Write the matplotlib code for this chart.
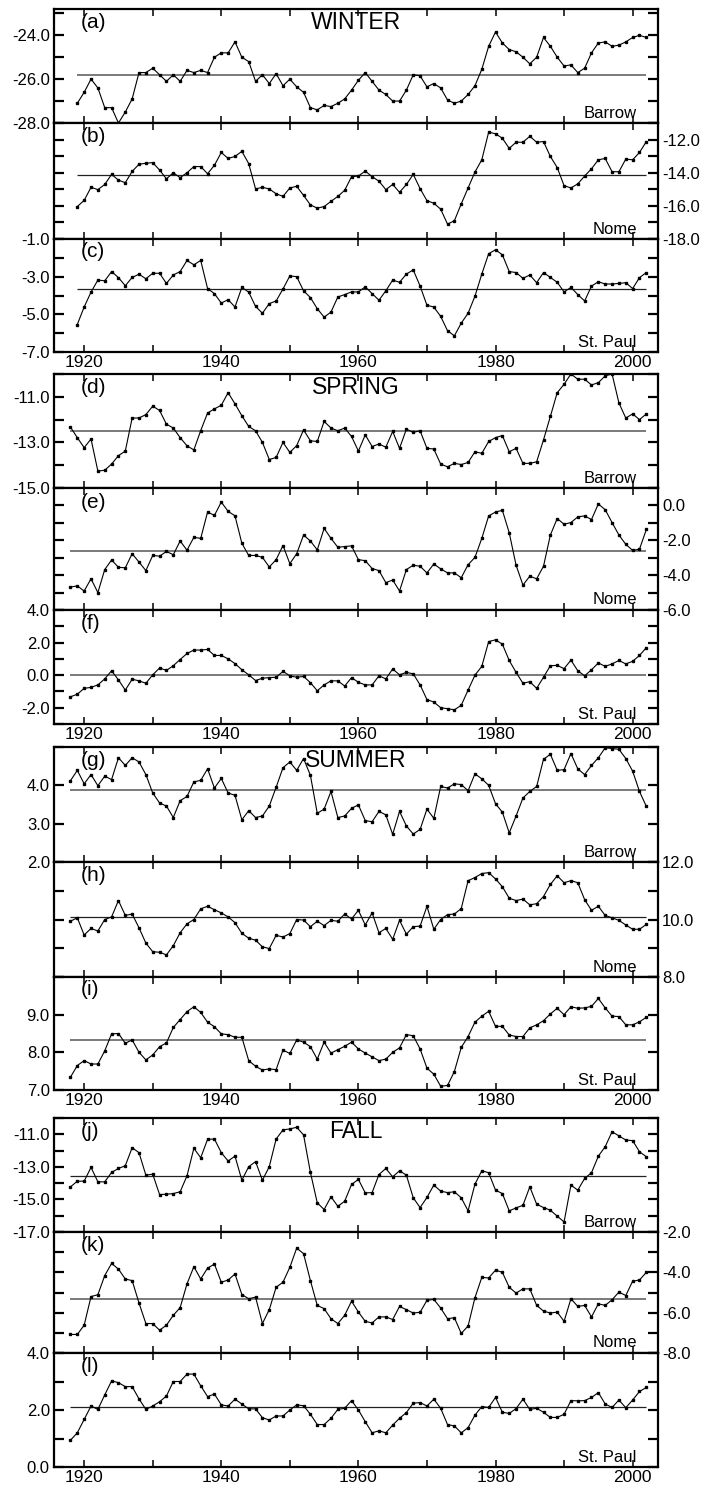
import numpy as np
import matplotlib.pyplot as plt

plt.rcParams['font.family'] = ['Liberation Sans', 'DejaVu Sans']
plt.rcParams['axes.unicode_minus'] = False

# ---- values ----
years_winter = np.arange(1919, 2003)
years = np.arange(1918, 2003)

barrow_winter = [-27.1, -26.6, -26.0, -26.4, -27.3, -27.3, -28.0, -27.5, -26.9, -25.7,
                 -25.7, -25.5, -25.8, -26.1, -25.8, -26.1, -25.6, -25.7, -25.6, -25.7,
                 -25.0, -24.8, -24.8, -24.3, -25.0, -25.2, -26.1, -25.8, -26.2, -25.75,
                 -26.3, -26.0, -26.35, -26.6, -27.3, -27.4, -27.2, -27.25, -27.1, -26.9,
                 -26.5, -26.05, -25.7, -26.1, -26.5, -26.7, -27.0, -27.0, -26.5, -25.8,
                 -25.85, -26.35, -26.2, -26.4, -26.95, -27.1, -27.0, -26.7, -26.3, -25.55,
                 -24.5, -23.85, -24.35, -24.65, -24.75, -25.0, -25.3, -25.0, -24.1, -24.5,
                 -25.0, -25.4, -25.35, -25.7, -25.5, -24.8, -24.35, -24.3, -24.5, -24.45,
                 -24.3, -24.1, -24.0, -24.1]
nome_winter = [-16.04, -15.67, -14.88, -15.02, -14.71, -14.1, -14.45, -14.6, -13.92, -13.49,
               -13.43, -13.39, -13.84, -14.37, -14.0, -14.3, -14.0, -13.63, -13.63, -14.06,
               -13.55, -12.78, -13.14, -13.02, -12.71, -13.45, -14.98, -14.88, -14.98, -15.27,
               -15.43, -14.92, -14.82, -15.37, -15.94, -16.14, -16.04, -15.73, -15.43, -15.06,
               -14.24, -14.2, -13.9, -14.24, -14.51, -15.02, -14.71, -15.18, -14.71, -14.1,
               -14.96, -15.69, -15.84, -16.2, -17.1, -16.9, -15.88, -14.92, -13.96, -13.22,
               -11.55, -11.65, -11.92, -12.53, -12.16, -12.16, -11.8, -12.16, -12.12, -13.02,
               -13.69, -14.78, -14.92, -14.67, -14.2, -13.76, -13.22, -13.14, -13.94, -13.94,
               -13.18, -13.22, -12.78, -12.12]
stpaul_winter = [-5.54, -4.61, -3.82, -3.18, -3.22, -2.73, -3.05, -3.48, -3.04, -2.87,
                 -3.11, -2.82, -2.82, -3.36, -2.91, -2.73, -2.14, -2.37, -2.14, -3.63,
                 -3.9, -4.4, -4.22, -4.61, -3.57, -3.82, -4.58, -4.94, -4.43, -4.29,
                 -3.65, -2.96, -3.0, -3.75, -4.11, -4.7, -5.15, -4.88, -4.08, -3.95,
                 -3.81, -3.81, -3.54, -3.9, -4.25, -3.75, -3.18, -3.3, -2.86, -2.64,
                 -3.5, -4.52, -4.61, -5.11, -5.87, -6.14, -5.47, -4.94, -4.04, -2.86,
                 -1.78, -1.57, -1.84, -2.73, -2.78, -3.09, -2.91, -3.32, -2.78, -3.04,
                 -3.3, -3.81, -3.57, -3.95, -4.29, -3.5, -3.27, -3.39, -3.39, -3.36,
                 -3.32, -3.63, -3.05, -2.78]

barrow_spring = [-12.33, -12.79, -13.23, -12.85, -14.26, -14.22, -13.95, -13.58, -13.38, -11.93,
                 -11.93, -11.78, -11.41, -11.6, -12.2, -12.37, -12.79, -13.15, -13.33, -12.48,
                 -11.71, -11.53, -11.37, -10.82, -11.31, -11.83, -12.3, -12.49, -13.0, -13.75,
                 -13.66, -13.0, -13.44, -13.14, -12.45, -12.93, -12.96, -12.08, -12.37, -12.49,
                 -12.37, -12.74, -13.38, -12.67, -13.18, -13.07, -13.21, -12.52, -13.26, -12.42,
                 -12.56, -12.49, -13.26, -13.29, -13.95, -14.07, -13.92, -13.97, -13.88, -13.41,
                 -13.48, -12.96, -12.79, -12.7, -13.41, -13.26, -13.92, -13.92, -13.85, -12.89,
                 -11.86, -10.82, -10.45, -10.0, -10.23, -10.23, -10.48, -10.38, -10.08, -10.0,
                 -11.27, -11.93, -11.75, -12.0, -11.75]
nome_spring = [-4.68, -4.62, -4.91, -4.21, -5.0, -3.68, -3.13, -3.55, -3.58, -2.77,
               -3.25, -3.74, -2.87, -2.91, -2.64, -2.83, -2.04, -2.57, -1.83, -1.89,
               -0.38, -0.57, 0.19, -0.34, -0.6, -2.17, -2.87, -2.87, -2.98, -3.53,
               -3.11, -2.3, -3.34, -2.77, -1.7, -2.04, -2.55, -1.32, -1.89, -2.4,
               -2.36, -2.32, -3.11, -3.17, -3.62, -3.74, -4.43, -4.28, -4.91, -3.68,
               -3.43, -3.49, -3.87, -3.36, -3.64, -3.87, -3.87, -4.15, -3.4, -2.98,
               -1.89, -0.6, -0.38, -0.28, -1.57, -3.43, -4.57, -4.06, -4.21, -3.49,
               -1.7, -0.75, -1.08, -0.98, -0.66, -0.6, -0.81, 0.09, -0.25, -0.98,
               -1.7, -2.23, -2.58, -2.51, -1.38]
stpaul_spring = [-1.33, -1.17, -0.81, -0.75, -0.6, -0.23, 0.27, -0.29, -0.92, -0.25,
                 -0.35, -0.5, 0.02, 0.44, 0.29, 0.58, 0.96, 1.33, 1.54, 1.54,
                 1.58, 1.21, 1.21, 1.0, 0.71, 0.33, 0.02, -0.33, -0.19, -0.15,
                 -0.13, 0.23, -0.04, -0.13, -0.08, -0.46, -0.96, -0.6, -0.35, -0.35,
                 -0.67, -0.15, -0.44, -0.6, -0.6, -0.04, -0.23, 0.38, 0.02, 0.17,
                 0.08, -0.6, -1.5, -1.65, -2.0, -2.06, -2.13, -1.85, -0.92, 0.0,
                 0.54, 2.06, 2.17, 1.9, 0.9, 0.17, -0.5, -0.4, -0.81, -0.13,
                 0.58, 0.6, 0.4, 0.92, 0.27, -0.04, 0.33, 0.75, 0.54, 0.69,
                 0.9, 0.69, 0.85, 1.21, 1.69]

barrow_summer = [4.12, 4.39, 4.04, 4.28, 3.99, 4.24, 4.15, 4.72, 4.52, 4.72,
                 4.61, 4.28, 3.8, 3.54, 3.46, 3.16, 3.6, 3.71, 4.09, 4.13,
                 4.43, 3.93, 4.18, 3.8, 3.74, 3.1, 3.34, 3.16, 3.2, 3.46,
                 3.95, 4.46, 4.61, 4.39, 4.7, 4.26, 3.27, 3.38, 3.84, 3.16,
                 3.2, 3.4, 3.49, 3.08, 3.05, 3.32, 3.23, 2.72, 3.32, 2.94,
                 2.73, 2.85, 3.38, 3.14, 3.97, 3.93, 4.04, 4.02, 3.86, 4.3,
                 4.17, 4.0, 3.52, 3.3, 2.76, 3.2, 3.67, 3.84, 3.97, 4.68,
                 4.81, 4.39, 4.41, 4.83, 4.43, 4.28, 4.52, 4.72, 4.98, 4.96,
                 4.94, 4.7, 4.37, 3.84, 3.45]
nome_summer = [9.94, 10.06, 9.46, 9.69, 9.6, 10.0, 10.09, 10.66, 10.14, 10.19,
               9.71, 9.18, 8.88, 8.86, 8.77, 9.09, 9.54, 9.85, 10.0, 10.37,
               10.46, 10.34, 10.23, 10.09, 9.89, 9.52, 9.35, 9.28, 9.05, 8.99,
               9.45, 9.39, 9.51, 10.0, 9.98, 9.75, 9.94, 9.79, 9.97, 9.94,
               10.19, 10.02, 10.32, 9.81, 10.23, 9.54, 9.69, 9.31, 9.97, 9.49,
               9.75, 9.77, 10.46, 9.66, 10.0, 10.17, 10.19, 10.38, 11.35, 11.46,
               11.6, 11.63, 11.41, 11.14, 10.74, 10.66, 10.71, 10.51, 10.55, 10.8,
               11.22, 11.52, 11.28, 11.35, 11.28, 10.69, 10.32, 10.46, 10.14, 10.06,
               9.97, 9.81, 9.66, 9.66, 9.83]
stpaul_summer = [7.34, 7.65, 7.78, 7.69, 7.69, 8.04, 8.49, 8.5, 8.24, 8.33,
                 8.0, 7.8, 7.93, 8.15, 8.25, 8.66, 8.87, 9.08, 9.21, 9.06,
                 8.8, 8.68, 8.49, 8.47, 8.4, 8.4, 7.78, 7.63, 7.53, 7.56,
                 7.54, 8.06, 7.97, 8.33, 8.27, 8.15, 7.82, 8.27, 7.98, 8.07,
                 8.16, 8.27, 8.09, 7.98, 7.88, 7.78, 7.82, 8.0, 8.12, 8.47,
                 8.44, 8.09, 7.58, 7.42, 7.1, 7.12, 7.49, 8.13, 8.42, 8.8,
                 8.96, 9.09, 8.69, 8.69, 8.46, 8.42, 8.42, 8.65, 8.73, 8.84,
                 9.02, 9.17, 9.0, 9.21, 9.17, 9.18, 9.22, 9.43, 9.18, 8.96,
                 8.95, 8.73, 8.73, 8.81, 8.93]

barrow_fall = [-14.23, -13.88, -13.88, -13.03, -13.92, -13.92, -13.34, -13.1, -12.93, -11.82,
               -12.13, -13.51, -13.45, -14.7, -14.68, -14.64, -14.53, -13.55, -11.86, -12.44,
               -11.31, -11.29, -12.13, -12.64, -12.34, -13.82, -12.99, -12.68, -13.82, -12.99,
               -11.29, -10.73, -10.67, -10.57, -11.04, -13.34, -15.21, -15.62, -14.84, -15.42,
               -15.11, -14.08, -13.77, -14.6, -14.58, -13.47, -13.1, -13.61, -13.24, -13.51,
               -14.9, -15.5, -14.88, -14.12, -14.49, -14.58, -14.53, -14.9, -15.7, -14.06,
               -13.24, -13.36, -14.43, -14.64, -15.7, -15.52, -15.36, -14.23, -15.29, -15.5,
               -15.66, -16.03, -16.38, -14.12, -14.43, -13.71, -13.36, -12.34, -11.76, -10.84,
               -11.1, -11.35, -11.39, -12.07, -12.38]
nome_fall = [-7.08, -7.08, -6.62, -5.2, -5.11, -4.16, -3.56, -3.84, -4.33, -4.41,
             -5.52, -6.54, -6.54, -6.87, -6.62, -6.13, -5.75, -4.57, -3.72, -4.33,
             -3.79, -3.59, -4.49, -4.38, -4.08, -5.1, -5.31, -5.23, -6.54, -5.85,
             -4.74, -4.49, -3.75, -2.8, -3.07, -4.41, -5.64, -5.8, -6.3, -6.54,
             -6.13, -5.43, -5.97, -6.43, -6.51, -6.21, -6.21, -6.34, -5.69, -5.85,
             -6.02, -5.98, -5.39, -5.34, -5.77, -6.3, -6.25, -7.03, -6.66, -5.26,
             -4.25, -4.28, -3.89, -4.0, -4.74, -5.03, -4.82, -4.82, -5.64, -5.92,
             -6.02, -5.97, -6.43, -5.31, -5.69, -5.64, -6.21, -5.56, -5.64, -5.36,
             -4.98, -5.15, -4.44, -4.38, -4.0]
stpaul_fall = [0.94, 1.2, 1.67, 2.14, 2.02, 2.53, 3.02, 2.96, 2.82, 2.82,
               2.39, 2.02, 2.14, 2.29, 2.49, 3.0, 3.0, 3.26, 3.26, 2.85,
               2.47, 2.56, 2.18, 2.14, 2.38, 2.21, 2.04, 2.04, 1.73, 1.65,
               1.79, 1.79, 2.0, 2.18, 2.15, 1.85, 1.49, 1.49, 1.71, 2.02,
               2.06, 2.33, 2.0, 1.59, 1.2, 1.27, 1.2, 1.47, 1.71, 1.91,
               2.24, 2.26, 2.14, 2.38, 2.06, 1.49, 1.44, 1.2, 1.38, 1.82,
               2.12, 2.09, 2.44, 1.92, 1.88, 2.05, 2.38, 2.02, 2.06, 1.92,
               1.74, 1.74, 1.85, 2.33, 2.32, 2.33, 2.44, 2.61, 2.21, 2.09,
               2.35, 2.08, 2.35, 2.65, 2.79]

mean_winter = [-25.82, -14.16, -3.63]
mean_spring = [-12.52, -2.6, 0.02]
mean_summer = [3.89, 10.09, 8.34]
mean_fall = [-13.57, -5.31, 2.09]

seasons = ['WINTER', 'SPRING', 'SUMMER', 'FALL']
stations = ['Barrow', 'Nome', 'St. Paul']
letters = 'abcdefghijkl'
year_labels = [1920, 1940, 1960, 1980, 2000]

ylims = [(-28, -22.8), (-18, -11), (-7, -1),
         (-15, -10), (-6, 1), (-3, 4),
         (2, 5), (8, 12), (7, 10),
         (-17, -10), (-8, -2), (0, 4)]
yticks = [[-28, -26, -24], [-18, -16, -14, -12], [-7, -5, -3, -1],
          [-15, -13, -11], [-6, -4, -2, 0], [-2, 0, 2, 4],
          [2, 3, 4], [8, 10, 12], [7, 8, 9],
          [-17, -15, -13, -11], [-8, -6, -4, -2], [0, 2, 4]]

series = [barrow_winter, nome_winter, stpaul_winter,
          barrow_spring, nome_spring, stpaul_spring,
          barrow_summer, nome_summer, stpaul_summer,
          barrow_fall, nome_fall, stpaul_fall]
means = mean_winter + mean_spring + mean_summer + mean_fall

# ---- layout (pixel rows of every panel) ----
W, H = 702, 1490
rows = [(9, 123), (123, 239), (239, 352),
        (374, 488), (488, 610), (610, 724),
        (747, 862), (862, 977), (977, 1090),
        (1118, 1232), (1232, 1353), (1353, 1467)]
gray_mean = [True, False, False, True, True, True,
             True, False, True, False, True, False]

fig = plt.figure(figsize=(W / 100, H / 100), dpi=100)

for i in range(12):
    top, bot = rows[i]
    ax = fig.add_axes([54 / W, 1 - bot / H, 604 / W, (bot - top) / H])
    x = years_winter if i < 3 else years

    ax.plot(x, series[i], '-s', color='black', lw=0.8, ms=1.6, zorder=3)
    if gray_mean[i]:
        ax.hlines(means[i], x[0], x[-1], color='#7a7a7a', lw=1.4, zorder=2)
    else:
        ax.hlines(means[i], x[0], x[-1], color='#222222', lw=0.9, zorder=2)

    ax.set_xlim(1915.6, 2003.7)
    ax.set_ylim(ylims[i])

    ax.set_xticks(year_labels)
    ax.set_xticks(np.arange(1930, 2001, 20), minor=True)
    ax.set_yticks(yticks[i])
    ax.set_yticks(np.arange(np.ceil(ylims[i][0]), np.floor(ylims[i][1]) + 1), minor=True)
    ax.yaxis.set_major_formatter('{x:.1f}')

    right = (i % 3 == 1)
    ax.tick_params(axis='y', which='both', direction='in', left=True, right=True,
                   length=7, width=1.6, labelleft=not right, labelright=right,
                   labelsize=12, pad=3)
    ax.tick_params(axis='x', which='both', direction='in', top=True, bottom=True,
                   length=5, width=1.1, labelsize=12.5, pad=2,
                   labelbottom=(i % 3 == 2))
    for sp in ax.spines.values():
        sp.set_linewidth(1.6)

    ax.text(0.045, 0.885, '(' + letters[i] + ')', transform=ax.transAxes,
            ha='left', va='center', fontsize=15)
    if i % 3 == 0:
        ax.text(0.5, 0.885, seasons[i // 3], transform=ax.transAxes,
                ha='center', va='center', fontsize=16.5)
    ax.text(0.965, 0.085, stations[i % 3], transform=ax.transAxes,
            ha='right', va='center', fontsize=12)

fig.savefig('out.png', dpi=100)
